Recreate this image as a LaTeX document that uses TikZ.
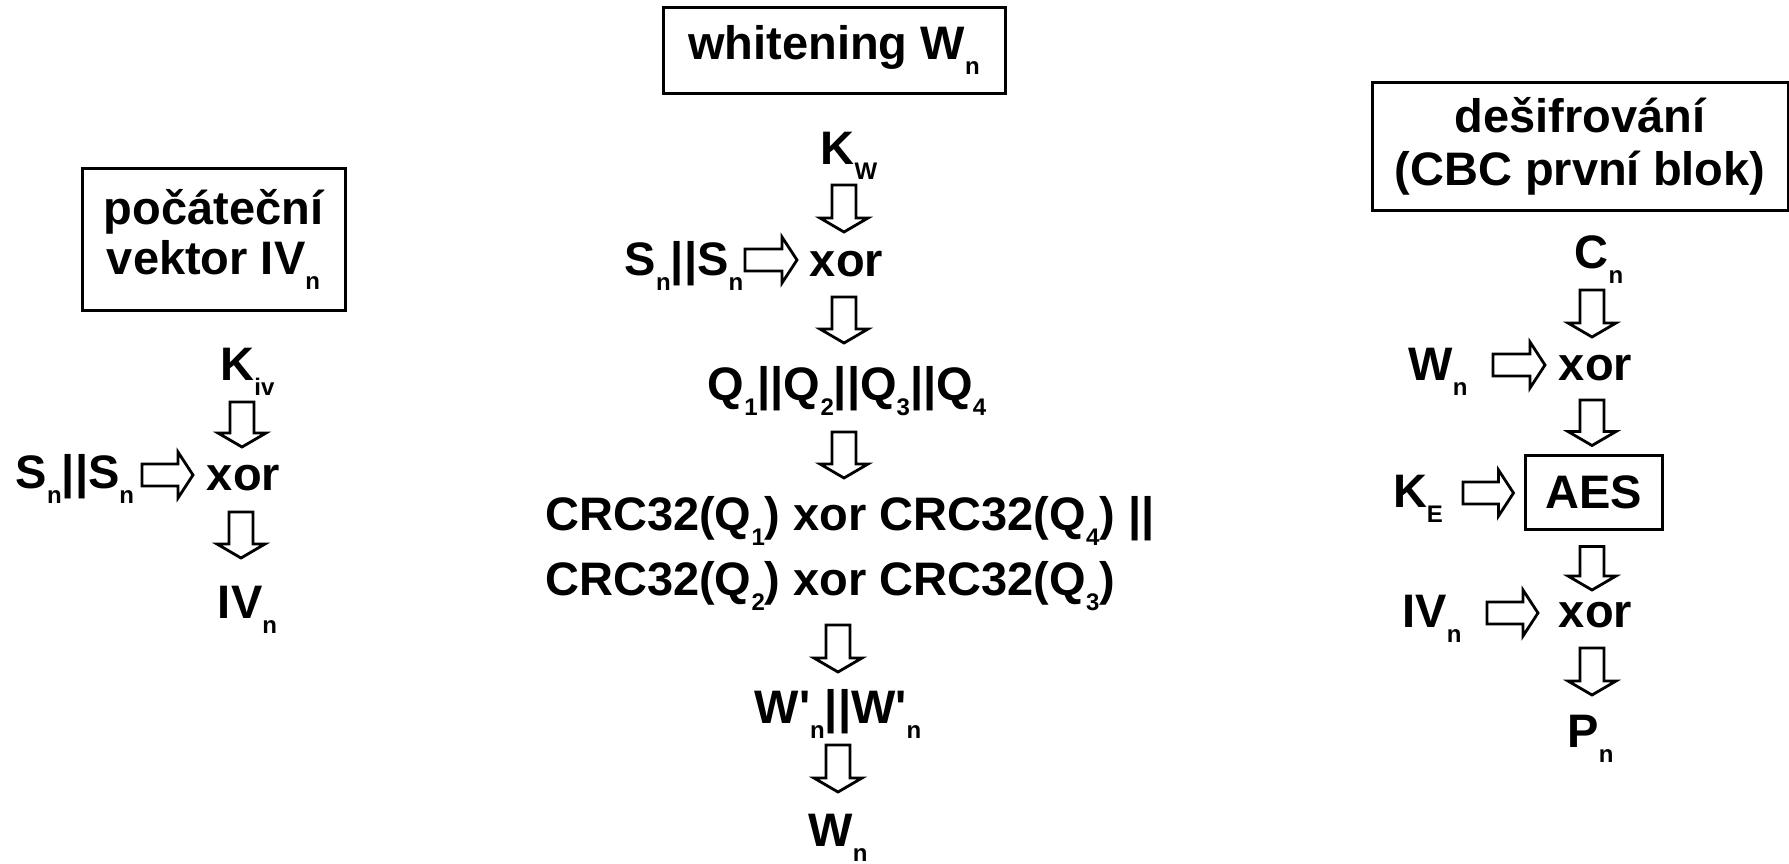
\documentclass[tikz,border=0pt]{standalone}
\usepackage{fontspec}
\setmainfont{Liberation Sans}[Ligatures=TeXOff]
\usetikzlibrary{calc}
\newcommand{\bigf}{\fontsize{47}{50}\selectfont\bfseries}
\newcommand{\sbs}[1]{\raisebox{-15pt}{\fontsize{24}{24}\selectfont\bfseries #1}}
\tikzset{
  txt/.style={inner sep=0pt, anchor=base, font=\bigf},
  txtw/.style={inner sep=0pt, anchor=base west, font=\bigf},
  boxn/.style={draw, line width=3pt, inner sep=0pt, align=center, font=\bigf},
  blk/.style={draw, line width=2.8pt, line join=miter},
  darr/.style={blk, to path={let \p1=(\tikztostart), \p2=(\tikztotarget) in
     (\x1-12pt,\y1) -- (\x1+12pt,\y1) -- (\x1+12pt,\y2+14pt) -- (\x1+24pt,\y2+14pt)
     -- (\x1,\y2) -- (\x1-24pt,\y2+14pt) -- (\x1-12pt,\y2+14pt) -- cycle}},
  rarr/.style={blk, to path={let \p1=(\tikztostart), \p2=(\tikztotarget) in
     (\x1,\y1+11pt) -- (\x2-15pt,\y1+11pt) -- (\x2-15pt,\y1+23pt) -- (\x2,\y1)
     -- (\x2-15pt,\y1-23pt) -- (\x2-15pt,\y1-11pt) -- (\x1,\y1-11pt) -- cycle}},
}
\begin{document}
\begin{tikzpicture}[x=1pt,y=-1pt]
\useasboundingbox (0,0) rectangle (1789,863);

% ---------- left column ----------
\node[boxn, minimum width=263, minimum height=142] (boxL) at (213.5,239)
  {počáteční\\vektor IV\sbs{n}};
\node[txt] (kiv)  at (247.5,380) {K\sbs{iv}};
\node[txt] (snA)  at (75,488)    {S\sbs{n}||S\sbs{n}};
\node[txt] (xorA) at (243.5,490) {xor};
\node[txt] (ivA)  at (247.5,618) {IV\sbs{n}};

\draw[darr] ($(kiv.base)+(-5.5,22)$) to ($(xorA.base)+(0,-43)$);
\draw[rarr] ($(snA.base)+(67,-13)$) to ($(xorA.base)+(-50.5,-15)$);
\draw[darr] ($(xorA.base)+(-2.5,22)$) to ($(ivA.base)+(0,-60)$);

% ---------- middle column ----------
\node[boxn, minimum width=342, minimum height=86] (boxM) at (834,50)
  {whitening W\sbs{n}};
\node[txt] (kw)   at (849,164)   {K\sbs{W}};
\node[txt] (snB)  at (684,275)   {S\sbs{n}||S\sbs{n}};
\node[txt] (xorB) at (846.5,276) {xor};
\node[txt] (q)    at (847,400)   {Q\sbs{1}||Q\sbs{2}||Q\sbs{3}||Q\sbs{4}};
\node[txtw] (crc1) at (545,530)  {CRC32(Q\sbs{1}) xor CRC32(Q\sbs{4}) ||};
\node[txtw] (crc2) at (545,595)  {CRC32(Q\sbs{2}) xor CRC32(Q\sbs{3})};
\node[txt] (wp)   at (838,723)   {W'\sbs{n}||W'\sbs{n}};
\node[txt] (wn)   at (838,846)   {W\sbs{n}};

\draw[darr] ($(kw.base)+(-5,21)$) to ($(xorB.base)+(0,-44)$);
\draw[rarr] ($(snB.base)+(61,-15)$) to ($(xorB.base)+(-49.5,0)$);
\draw[darr] ($(xorB.base)+(-2.5,21)$) to ($(q.base)+(0,-57)$);
\draw[darr] ($(q.base)+(-3,32)$) to ($(crc1.base west)+(0,-52)$);
\draw[darr] ($(crc2.base west)+(293,30)$) to ($(wp.base)+(0,-51)$);
\draw[darr] ($(wp.base)+(0,22)$) to ($(wn.base)+(0,-54)$);

% ---------- right column ----------
\node[boxn, minimum width=416, minimum height=128, font=\fontsize{47}{53}\selectfont\bfseries]
  (boxR) at (1580,146) {dešifrování\\(CBC první blok)};
\node[txt] (cn)    at (1599,268)   {C\sbs{n}};
\node[txt] (wnR)   at (1438,380)   {W\sbs{n}};
\node[txt] (xorR1) at (1595.5,380) {xor};
\node[boxn, minimum width=137, minimum height=74] (aes) at (1593.5,492) {AES};
\node[txt] (ke)    at (1418,507)   {K\sbs{E}};
\node[txt] (ivR)   at (1432,627)   {IV\sbs{n}};
\node[txt] (xorR2) at (1595.5,627) {xor};
\node[txt] (pn)    at (1590.5,747) {P\sbs{n}};

\draw[darr] ($(cn.base)+(-7,22)$) to ($(xorR1.base)+(0,-43)$);
\draw[rarr] ($(wnR.base)+(55,-15)$) to ($(xorR1.base)+(-50.5,0)$);
\draw[darr] ($(xorR1.base)+(-3.5,20)$) to ($(aes.north)+(0,-8)$);
\draw[rarr] ($(ke.base)+(45,-14)$) to ($(aes.west)+(-10,0)$);
\draw[darr] ($(aes.south)+(-1.5,16)$) to ($(xorR2.base)+(0,-37)$);
\draw[rarr] ($(ivR.base)+(55,-14)$) to ($(xorR2.base)+(-57.5,0)$);
\draw[darr] ($(xorR2.base)+(-3.5,21)$) to ($(pn.base)+(0,-52)$);
\end{tikzpicture}
\end{document}
